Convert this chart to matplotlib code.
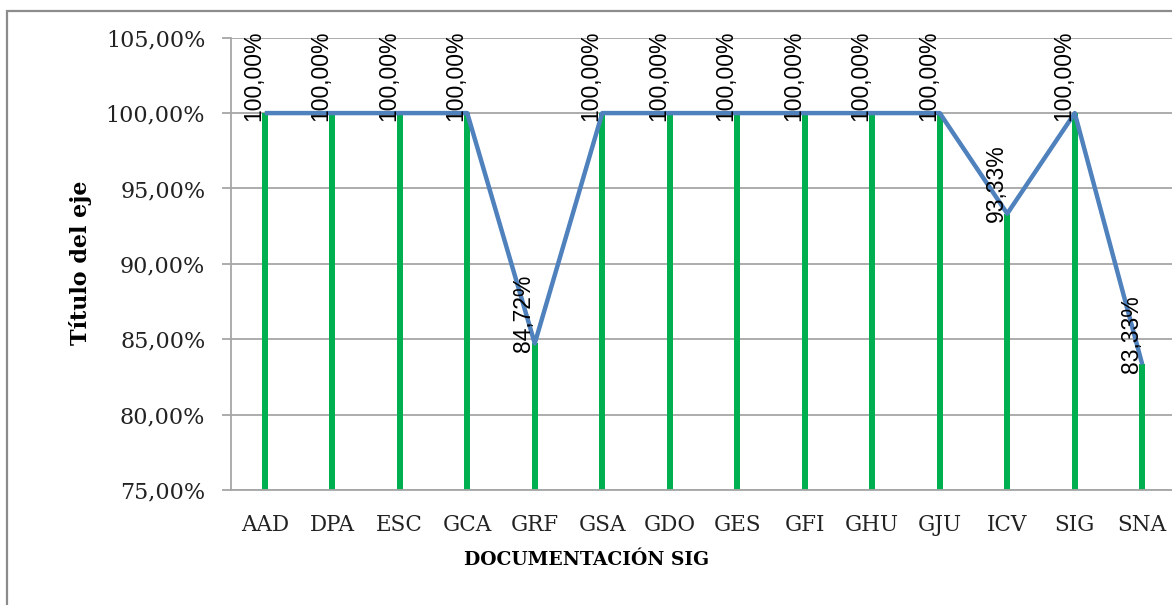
import matplotlib
matplotlib.use('Agg')
import matplotlib.pyplot as plt
from matplotlib.patches import Rectangle
from matplotlib.ticker import FuncFormatter

categorias = ['AAD', 'DPA', 'ESC', 'GCA', 'GRF', 'GSA', 'GDO', 'GES', 'GFI', 'GHU', 'GJU', 'ICV', 'SIG', 'SNA']
valores = [100.00, 100.00, 100.00, 100.00, 84.72, 100.00, 100.00, 100.00, 100.00, 100.00, 100.00, 93.33, 100.00, 83.33]

verde = '#00B050'
azul = '#4F81BD'
gris = '#A6A6A6'

fig = plt.figure(figsize=(11.72, 6.05), dpi=100)

# borde exterior del grafico (se corta a la derecha y abajo)
fig.patches.append(Rectangle((7 / 1172, -0.1), 1.2, (605 - 11) / 605 + 0.1,
                             transform=fig.transFigure, fill=False,
                             edgecolor='#8C8C8C', linewidth=1.6))

ax = fig.add_axes([231 / 1172, (605 - 490) / 605, 945 / 1172, 452.3 / 605])

x = list(range(len(categorias)))
ax.bar(x, valores, width=0.085, color=verde, zorder=2)
ax.plot(x, valores, color=azul, linewidth=3.2, zorder=3, solid_capstyle='butt')

for xi, v in zip(x, valores):
    txt = '{:.2f}%'.format(v).replace('.', ',')
    ax.annotate(txt, (xi, v), xytext=(-8, -6), textcoords='offset points',
                rotation=90, ha='center', va='bottom', fontsize=16.5,
                family='Liberation Sans', color='black', zorder=4)

ax.set_xlim(-0.5, len(categorias) - 0.5)
ax.set_ylim(75, 105)
ax.set_yticks([75, 80, 85, 90, 95, 100, 105])
ax.yaxis.set_major_formatter(FuncFormatter(lambda v, p: '{:.2f}%'.format(v).replace('.', ',')))
ax.set_xticks(x)
ax.set_xticklabels(categorias)

ax.grid(axis='y', color=gris, linewidth=1.3, zorder=0)
ax.set_axisbelow(True)
for s in ['top', 'right']:
    ax.spines[s].set_visible(False)
for s in ['left', 'bottom']:
    ax.spines[s].set_color(gris)
    ax.spines[s].set_linewidth(1.3)

ax.tick_params(axis='y', length=6.5, width=1.3, color=gris, pad=12)
ax.tick_params(axis='x', length=0, pad=17)
for lab in ax.get_yticklabels():
    lab.set_family('DejaVu Serif')
    lab.set_fontsize(16)
    lab.set_color('#222222')
for lab in ax.get_xticklabels():
    lab.set_family('DejaVu Serif')
    lab.set_fontsize(15.5)
    lab.set_color('#222222')

fig.text(80 / 1172, 1 - 263 / 605, 'Título del eje', rotation=90, ha='center', va='center',
         family='DejaVu Serif', fontweight='bold', fontsize=16)
fig.text(587 / 1172, 1 - 560 / 605, 'DOCUMENTACIÓN SIG', ha='center', va='center',
         family='DejaVu Serif', fontweight='bold', fontsize=13.5)

fig.savefig('out.png', dpi=100)
